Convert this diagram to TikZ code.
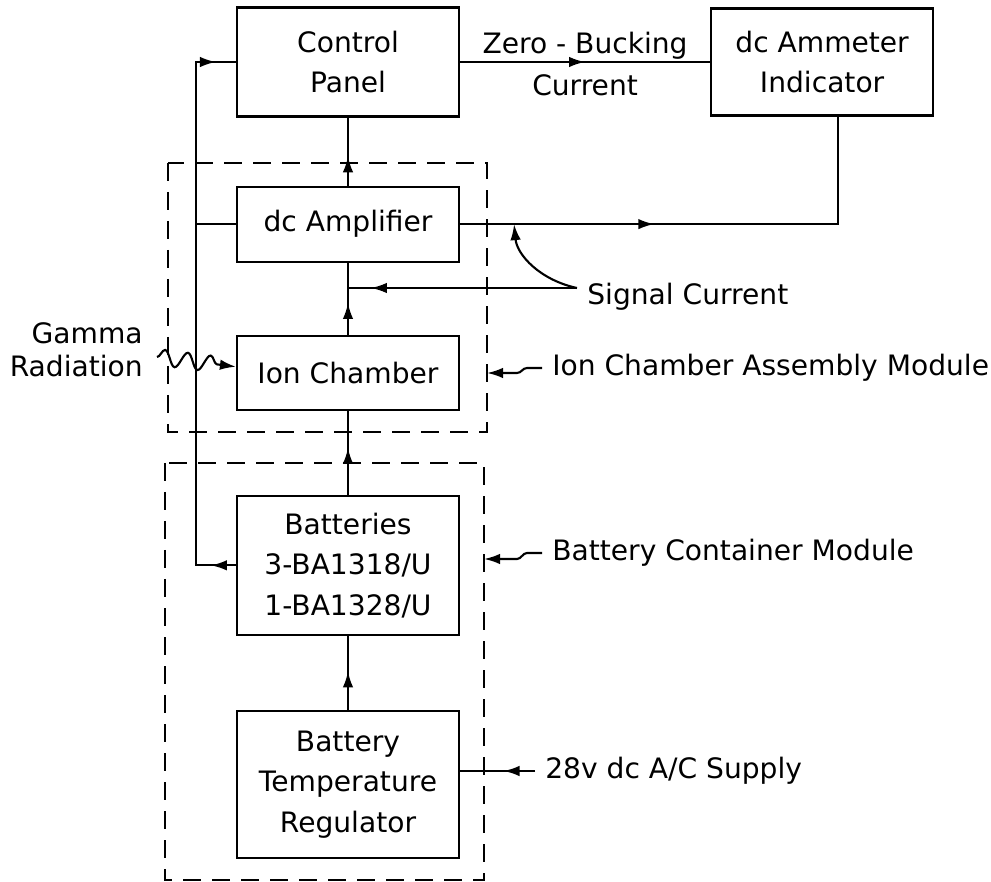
\documentclass[tikz,border=0pt]{standalone}
\usepackage{fontspec}
\setmainfont{DejaVu Sans}
\usetikzlibrary{positioning,arrows.meta,calc,decorations.markings,decorations.pathmorphing}
\tikzset{
  blk/.style={draw, line width=1.2pt, minimum width=44.4mm, align=center, inner sep=2pt},
  module/.style={line width=1.2pt, dash pattern=on 3.6mm off 2.2mm},
  wire/.style={line width=1.2pt},
  arr/.style={wire, -{Latex[length=3.2mm,width=2.1mm]}},
  arrowat/.style={wire, postaction={decorate, decoration={markings,
      mark=at position #1 with {\arrow{Latex[length=3.2mm,width=2.1mm]}}}}},
  wave/.style={arr, decorate, decoration={snake, amplitude=1.6mm, segment length=4.6mm, post length=3.2mm}},
  lbl/.style={inner xsep=2mm, inner ysep=0pt}
}
\begin{document}
\begin{tikzpicture}[x=0.2mm, y=-0.2mm, font=\fontsize{16}{23}\selectfont]
    \useasboundingbox (0,0) rectangle (991,882);
    \node[blk, minimum height=21.8mm] (cp) at (348,62) {Control\\Panel};
    \node[blk, minimum height=21.4mm, right=50mm of cp] (amm) {dc Ammeter\\Indicator};
    \node[blk, minimum height=15mm, below=13.6mm of cp] (amp) {dc Amplifier};
    \node[blk, minimum height=14.8mm, below=14.4mm of amp] (ion) {Ion Chamber};
    \node[blk, minimum height=27.8mm, below=16.8mm of ion] (bat) {Batteries\\3-BA1318/U\\1-BA1328/U};
    \node[blk, minimum height=29.4mm, below=14.8mm of bat] (reg) {Battery\\Temperature\\Regulator};
    \draw[module] (168,163) rectangle (487,432) coordinate (icse);
    \draw[module] (165,463) rectangle (484,880) coordinate (bcse);
    \draw[arrowat=0.5] (cp) -- node[above=-2.5pt] {Zero - Bucking} node[below=3pt] {Current} (amm);
    \draw[arrowat=0.43] (amp) -- (cp);
    \draw[arrowat=0.44] (ion) -- (amp);
    \draw[arrowat=0.56] (bat) -- (ion);
    \draw[arrowat=0.52] (reg) -- (bat);
    \draw[arrowat=5mm, arrowat=-4mm] (bat.west) -- ++(-40,0) coordinate (lv) |- (cp.west);
    \draw[wire] (amp.west) -- (amp.west -| lv);
    \draw[arrowat=0.4] (amp.east) -| ([xshift=3.2mm]amm.south);
    \coordinate (sg) at (577,288);
    \coordinate (sj) at (amp.south |- sg);
    \coordinate[right=10.8mm of amp.east] (tap);
    \draw[arrowat=0.9] (sg) -- (sj);
    \draw[arr] (sg) .. controls (540,280) and (517,255) .. (tap);
    \node[lbl, anchor=west] (sigc) at (577,297) {Signal Current};
    \node[lbl, anchor=west] (icm) at (542,368) {Ion Chamber Assembly Module};
    \draw[arr] (icm.west) -- ++(-15,0) to[out=180,in=0] ++(-10,5) -- (icse |- 0,373);
    \node[lbl, anchor=west] (bcm) at (542,553) {Battery Container Module};
    \draw[arr] (bcm.west) -- ++(-15,0) to[out=180,in=0] ++(-10,6) -- (bcse |- 0,559);
    \node[lbl, anchor=west] (sup) at (535,771) {28v dc A/C Supply};
    \draw[arrowat=0.42] (sup.west) -- (sup.west -| reg.east);
    \node[anchor=east, align=right, inner sep=0pt, font=\fontsize{16}{18.5}\selectfont] (gam) at (143,350) {Gamma\\Radiation};
    \coordinate (gs) at (157,357);
    \draw[wave] (gs) -- ($(ion.west)+(0,-6)$);
  \end{tikzpicture}
\end{document}
